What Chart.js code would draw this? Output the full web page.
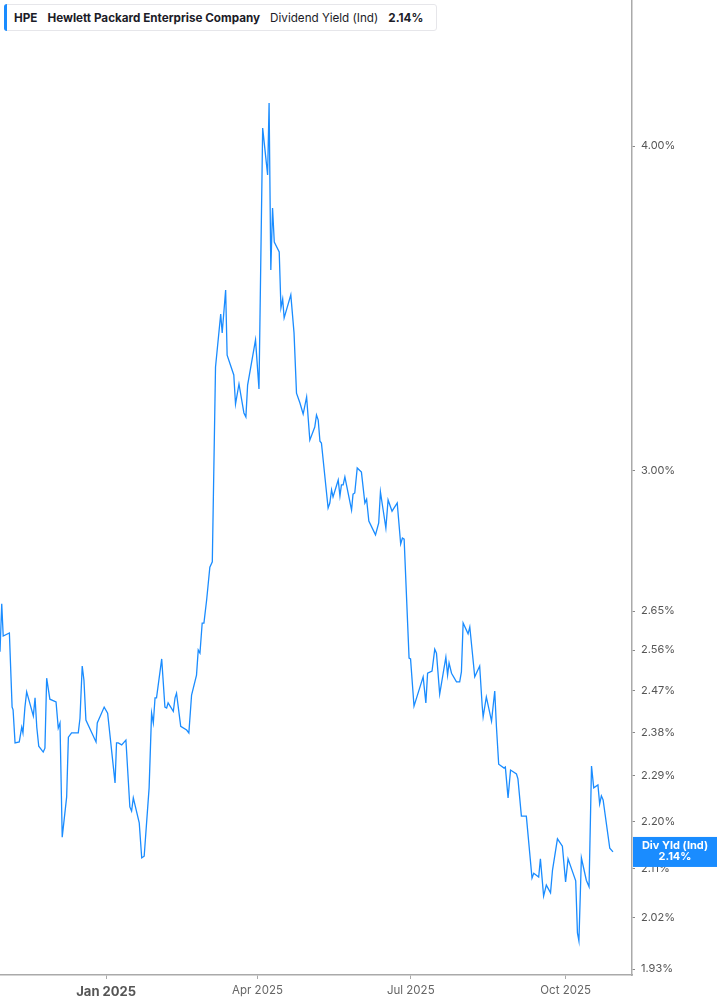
<!DOCTYPE html>
<html>
<head>
<meta charset="utf-8">
<title>HPE Dividend Yield</title>
<script src="https://cdn.jsdelivr.net/npm/chart.js@4/dist/chart.umd.min.js"></script>
<style>
    html, body { margin: 0; padding: 0; background: #fff; }
    #wrap { position: relative; width: 717px; height: 1005px; }
    #chart { position: absolute; left: 0; top: 0; }
    #legend {
        position: absolute; left: 4px; top: 4px; height: 27px; width: 433px;
        box-sizing: border-box; border: 1px solid #e6e6ea; border-radius: 3px;
        background: #fff; display: flex; align-items: center; padding-left: 9px;
        font-family: Inter, "Noto Sans", sans-serif; font-size: 11.7px; color: #1c1c28;
        white-space: nowrap; z-index: 2;
    }
    #legend::before {
        content: ''; position: absolute; left: -1px; top: -1px; bottom: -1px; width: 3px;
        background: #1a8cff; border-radius: 3px 0 0 3px;
    }
    #legend span { margin-right: 10px; }
    #legend .b { font-weight: 700; }
</style>
</head>
<body>
<div id="wrap">
    <canvas id="chart" width="717" height="1005"></canvas>
    <div id="legend">
        <span class="b">HPE</span>
        <span class="b">Hewlett Packard Enterprise Company</span>
        <span>Dividend Yield (Ind)</span>
        <span class="b" id="lastYield"></span>
    </div>
</div>
<script>
// trading-day index (0 = late Oct 2024) of each turning point
const tradingDay = [
    0, 0.7, 1.3, 3.8, 4.9, 5.3, 6.1, 7.8, 8.8, 9.3,
    10.1, 10.8, 13.5, 14.2, 14.9, 15.7, 17.5, 18.2, 18.9, 20.2,
    22.7, 23.6, 24.3, 25.2, 27.0, 27.7, 29.0, 31.7, 32.4, 33.3,
    34.0, 34.8, 38.9, 39.4, 42.2, 43.6, 46.6, 47.2, 47.9, 49.3,
    51.0, 52.6, 53.3, 54.0, 56.4, 57.4, 58.4, 60.4, 61.4, 62.1,
    62.8, 63.4, 65.5, 66.8, 67.5, 68.1, 70.2, 70.9, 71.5, 73.2,
    75.6, 76.5, 77.6, 79.6, 80.3, 81.0, 81.9, 82.6, 83.7, 85.0,
    86.0, 87.3, 89.4, 90.0, 91.4, 92.0, 94.7, 95.4, 96.8, 98.8,
    99.6, 100.3, 103.5, 104.9, 106.4, 108.4, 109.0, 109.7, 110.4, 111.1,
    113.1, 113.8, 114.5, 115.1, 117.8, 119.1, 120.1, 121.5, 122.8, 124.2,
    125.5, 127.5, 128.2, 128.9, 129.6, 130.2, 132.9, 133.6, 134.3, 134.9,
    137.0, 137.7, 138.3, 139.0, 139.7, 141.0, 142.4, 143.0, 143.7, 144.7,
    146.4, 147.8, 148.5, 149.4, 152.1, 153.4, 154.1, 155.2, 156.3, 157.2,
    158.8, 160.9, 162.3, 163.0, 163.7, 165.7, 166.3, 167.7, 171.4, 172.5,
    173.2, 175.0, 176.1, 176.8, 178.1, 180.6, 181.3, 181.9, 182.9, 184.9,
    186.2, 186.9, 187.6, 189.6, 190.3, 192.3, 194.3, 195.3, 195.7, 197.0,
    199.1, 200.4, 201.1, 202.0, 204.2, 204.7, 205.8, 206.8, 209.2, 209.8,
    211.2, 213.2, 215.5, 216.2, 218.2, 218.9, 220.2, 221.3, 223.0, 223.8,
    225.8, 227.8, 229.1, 230.1, 233.2, 233.9, 234.5, 235.5, 237.5, 238.6,
    239.6, 240.5, 242.2, 242.9, 243.6, 244.3, 247.0, 248.3
];

// dividend yield (%) at those points
const yieldPct = [
    2.556, 2.667, 2.592, 2.599, 2.434, 2.428, 2.358, 2.360, 2.391, 2.379,
    2.434, 2.467, 2.415, 2.454, 2.391, 2.351, 2.339, 2.347, 2.497, 2.451,
    2.445, 2.389, 2.400, 2.169, 2.248, 2.370, 2.379, 2.379, 2.410, 2.524,
    2.493, 2.406, 2.360, 2.400, 2.434, 2.421, 2.276, 2.358, 2.358, 2.354,
    2.364, 2.228, 2.220, 2.246, 2.197, 2.130, 2.133, 2.266, 2.421, 2.400,
    2.454, 2.454, 2.540, 2.434, 2.432, 2.443, 2.425, 2.454, 2.464, 2.393,
    2.385, 2.379, 2.460, 2.504, 2.560, 2.553, 2.622, 2.622, 2.676, 2.755,
    2.768, 3.289, 3.447, 3.390, 3.521, 3.324, 3.266, 3.183, 3.240, 3.158,
    3.147, 3.237, 3.369, 3.226, 4.064, 3.899, 4.155, 3.584, 3.786, 3.674,
    3.642, 3.466, 3.493, 3.435, 3.506, 3.390, 3.214, 3.186, 3.155, 3.203,
    3.083, 3.119, 3.152, 3.138, 3.080, 3.075, 2.903, 2.916, 2.950, 2.932,
    2.976, 2.934, 2.963, 2.963, 2.984, 2.942, 2.898, 2.939, 2.942, 3.008,
    2.997, 2.916, 2.926, 2.870, 2.835, 2.865, 2.945, 2.898, 2.852, 2.924,
    2.895, 2.916, 2.812, 2.827, 2.824, 2.542, 2.540, 2.436, 2.500, 2.443,
    2.508, 2.513, 2.562, 2.553, 2.462, 2.544, 2.504, 2.531, 2.508, 2.489,
    2.489, 2.511, 2.622, 2.597, 2.613, 2.500, 2.524, 2.438, 2.413, 2.456,
    2.404, 2.469, 2.391, 2.314, 2.306, 2.308, 2.246, 2.302, 2.294, 2.284,
    2.210, 2.210, 2.092, 2.101, 2.094, 2.128, 2.059, 2.079, 2.065, 2.107,
    2.166, 2.152, 2.085, 2.128, 2.087, 1.993, 1.979, 2.130, 2.088, 2.076,
    2.310, 2.266, 2.272, 2.234, 2.250, 2.242, 2.148, 2.141
];

const monthTickDays = [43, 104.3, 166.4, 229.1];
const monthTickLabels = ['Jan 2025', 'Apr 2025', 'Jul 2025', 'Oct 2025'];
const yieldTicks = [1.93, 2.02, 2.11, 2.20, 2.29, 2.38, 2.47, 2.56, 2.65, 3.00, 4.00];

const LINE_BLUE = '#1a8cff';
const FONT = 'Inter, "Noto Sans", sans-serif';

class YieldChart {
    constructor() {
        this.last = yieldPct[yieldPct.length - 1];
        document.getElementById('lastYield').textContent = `${this.last.toFixed(2)}%`;
        this.setupChart();
    }

    // blue tag on the right axis at the latest value
    badgePlugin() {
        const last = this.last;
        return {
            id: 'lastValueBadge',
            afterDraw(chart) {
                const { ctx, chartArea, scales } = chart;
                const y = scales.y.getPixelForValue(last);
                const x0 = chartArea.right + 1;
                const w = chart.width - x0;
                ctx.save();
                ctx.fillStyle = LINE_BLUE;
                ctx.fillRect(x0, y - 15, w, 30);
                ctx.fillStyle = '#fff';
                ctx.font = `bold 11px ${FONT}`;
                ctx.textAlign = 'center';
                ctx.textBaseline = 'middle';
                ctx.fillText('Div Yld (Ind)', x0 + w / 2, y - 6);
                ctx.fillText(`${last.toFixed(2)}%`, x0 + w / 2, y + 5);
                ctx.restore();
            }
        };
    }

    setupChart() {
        const ctx = document.getElementById('chart').getContext('2d');
        this.chart = new Chart(ctx, {
            type: 'line',
            data: {
                datasets: [{
                    data: tradingDay.map((d, i) => ({ x: d, y: yieldPct[i] })),
                    borderColor: LINE_BLUE,
                    borderWidth: 1.3,
                    pointRadius: 0,
                    tension: 0,
                    fill: false
                }]
            },
            options: {
                responsive: false,
                animation: false,
                layout: { padding: 0 },
                plugins: {
                    legend: { display: false },
                    tooltip: { enabled: false }
                },
                scales: {
                    x: {
                        type: 'linear',
                        min: 0,
                        max: 256,
                        afterFit: s => { s.height = 30; },
                        afterBuildTicks: s => {
                            s.ticks = monthTickDays.map(v => ({ value: v }));
                        },
                        grid: { drawOnChartArea: false, drawTicks: true, tickLength: 4, color: '#aaa' },
                        border: { display: true, color: '#aaa', width: 1.5 },
                        ticks: {
                            autoSkip: false,
                            maxRotation: 0,
                            padding: 5,
                            callback: (v, i) => monthTickLabels[i],
                            color: c => c.index === 0 ? '#555' : '#666',
                            font: c => c.index === 0
                                ? { family: FONT, size: 13, weight: 'bold' }
                                : { family: FONT, size: 11.5 }
                        }
                    },
                    y: {
                        type: 'logarithmic',
                        position: 'right',
                        min: 1.92,
                        max: 4.552,
                        afterFit: s => {
                            s.width = 85;
                            // let the plot run right up to the top edge
                            s.paddingTop = 0;
                            s.paddingBottom = 0;
                        },
                        afterBuildTicks: s => {
                            s.ticks = yieldTicks.map(v => ({ value: v }));
                        },
                        grid: { drawOnChartArea: false, drawTicks: true, tickLength: 3, color: '#888' },
                        border: { display: true, color: '#aaa', width: 1.5 },
                        ticks: {
                            autoSkip: false,
                            padding: 6,
                            color: '#555',
                            font: { family: FONT, size: 11 },
                            callback: v => `${Number(v).toFixed(2)}%`
                        }
                    }
                }
            },
            plugins: [this.badgePlugin()]
        });
    }
}

document.addEventListener('DOMContentLoaded', () => {
    new YieldChart();
});
</script>
</body>
</html>
